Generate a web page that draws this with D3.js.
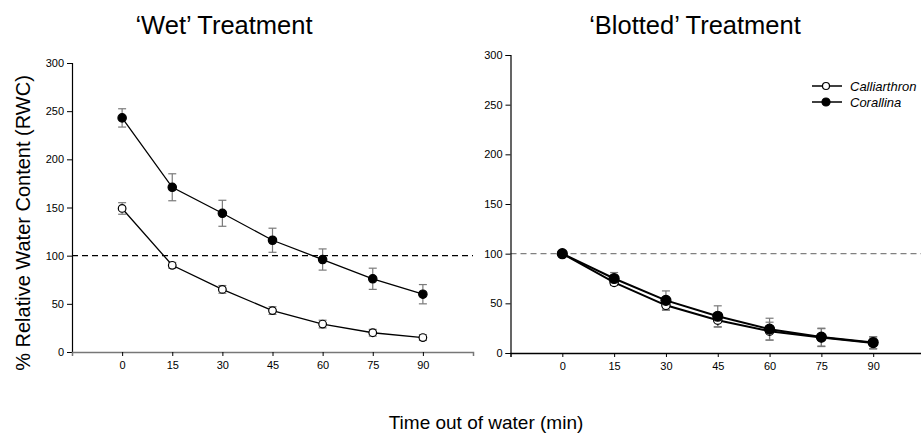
<!DOCTYPE html>
<html>
<head>
<meta charset="utf-8">
<script src="https://cdn.jsdelivr.net/npm/d3@7"></script>
<style>
  html, body { margin: 0; padding: 0; background: #fff; }
  svg { display: block; font-family: "Liberation Sans", Arial, sans-serif; }
</style>
</head>
<body>
<svg id="chart" width="921" height="434"></svg>
<script>
// ---- data ----
const times = [0, 15, 30, 45, 60, 75, 90];
const yTicks = [0, 50, 100, 150, 200, 250, 300];
const seriesNames = ["Calliarthron", "Corallina"];

const wetCalliarthron = [149, 90, 65, 43, 29, 20, 15];
const wetCalliarthronErr = [6, 3, 4, 4, 4, 3.5, 3];
const wetCorallina = [243, 171, 144, 116, 96, 76, 60];
const wetCorallinaErr = [9.5, 14, 13.5, 12.5, 11, 11, 10];

const blotCalliarthron = [100, 71, 48, 33, 22, 15.5, 10];
const blotCalliarthronErr = [1, 3, 5, 7, 9, 9, 6];
const blotCorallina = [100, 75, 53, 37, 24, 16, 10.5];
const blotCorallinaErr = [1, 6, 9.5, 10.5, 11, 9, 6];

const titles = ["\u2018Wet\u2019 Treatment", "\u2018Blotted\u2019 Treatment"];
const yLabel = "% Relative Water Content (RWC)";
const xLabel = "Time out of water (min)";

const svg = d3.select("#chart");

function panel(cfg) {
  const x = d3.scaleLinear().domain([-15, 105]).range(cfg.xr);
  const y = d3.scaleLinear().domain([0, 300]).range(cfg.yr);
  const g = svg.append("g");

  // reference line at 100
  g.append("line")
    .attr("x1", x(-15)).attr("x2", cfg.refEnd)
    .attr("y1", y(100)).attr("y2", y(100))
    .attr("stroke", cfg.refColor).attr("stroke-width", 1.3)
    .attr("stroke-dasharray", "6,4");

  // y axis
  const ya = g.append("g").attr("transform", `translate(${x(-15)},0)`)
    .call(d3.axisLeft(y).tickValues(yTicks).tickSize(5).tickPadding(3));
  ya.select(".domain").attr("stroke", "#000").attr("stroke-width", 1.2);
  ya.selectAll("text").attr("font-size", 11).attr("font-family", "Liberation Sans, Arial, sans-serif").attr("fill", "#000");

  // x axis
  const xa = g.append("g").attr("transform", `translate(0,${y(0)})`)
    .call(d3.axisBottom(x).tickValues(times).tickSize(4).tickPadding(5));
  xa.select(".domain").attr("stroke", cfg.xAxisColor).attr("stroke-width", 1.5);
  xa.selectAll("text").attr("font-size", 11).attr("font-family", "Liberation Sans, Arial, sans-serif").attr("fill", "#000");

  // title
  g.append("text").attr("x", cfg.titleX).attr("y", 34)
    .attr("text-anchor", "middle").attr("font-size", 25.5)
    .attr("fill", "#000").text(cfg.title);

  const line = d3.line().x((d, i) => x(times[i])).y(d => y(d));

  cfg.series.forEach(s => {
    // error bars
    const eb = g.append("g").attr("stroke", "#7a7a7a").attr("stroke-width", 1.2);
    s.vals.forEach((v, i) => {
      const e = s.err[i];
      const cx = x(times[i]);
      eb.append("line").attr("x1", cx).attr("x2", cx).attr("y1", y(v + e)).attr("y2", y(v - e));
      eb.append("line").attr("x1", cx - 4).attr("x2", cx + 4).attr("y1", y(v + e)).attr("y2", y(v + e));
      eb.append("line").attr("x1", cx - 4).attr("x2", cx + 4).attr("y1", y(v - e)).attr("y2", y(v - e));
    });
  });
  cfg.series.forEach(s => {
    g.append("path").datum(s.vals).attr("d", line)
      .attr("fill", "none").attr("stroke", "#000").attr("stroke-width", cfg.lw);
    g.selectAll(null).data(s.vals).enter().append("circle")
      .attr("cx", (d, i) => x(times[i])).attr("cy", d => y(d))
      .attr("r", s.filled ? cfg.rf : cfg.ro)
      .attr("fill", s.filled ? "#000" : "#fff")
      .attr("stroke", "#000").attr("stroke-width", 1.2);
  });
}

panel({
  xr: [72, 473], yr: [352, 63], refEnd: 473, refColor: "#000", xAxisColor: "#777",
  title: titles[0], titleX: 224, lw: 1.3, rf: 4.2, ro: 3.8,
  series: [
    { vals: wetCalliarthron, err: wetCalliarthronErr, filled: false },
    { vals: wetCorallina, err: wetCorallinaErr, filled: true }
  ]
});

panel({
  xr: [510.5, 925], yr: [353, 55], refEnd: 921, refColor: "#808080", xAxisColor: "#000",
  title: titles[1], titleX: 695, lw: 2, rf: 5, ro: 4.2,
  series: [
    { vals: blotCalliarthron, err: blotCalliarthronErr, filled: false },
    { vals: blotCorallina, err: blotCorallinaErr, filled: true }
  ]
});

// legend
const leg = svg.append("g");
seriesNames.forEach((n, i) => {
  const ly = 86 + i * 16;
  leg.append("line").attr("x1", 812).attr("x2", 842).attr("y1", ly).attr("y2", ly)
    .attr("stroke", "#000").attr("stroke-width", 1.5);
  leg.append("circle").attr("cx", 826).attr("cy", ly).attr("r", i === 0 ? 3.5 : 4)
    .attr("fill", i === 0 ? "#fff" : "#000").attr("stroke", "#000").attr("stroke-width", 1.2);
  leg.append("text").attr("x", 850).attr("y", ly + 4.5).attr("font-size", 13)
    .attr("font-style", "italic").attr("fill", "#000").text(n);
});

// axis labels
svg.append("text").attr("transform", "translate(30,223) rotate(-90)")
  .attr("text-anchor", "middle").attr("font-size", 20).attr("fill", "#000").text(yLabel);
svg.append("text").attr("x", 486).attr("y", 429)
  .attr("text-anchor", "middle").attr("font-size", 19).attr("fill", "#000").text(xLabel);
</script>
</body>
</html>
